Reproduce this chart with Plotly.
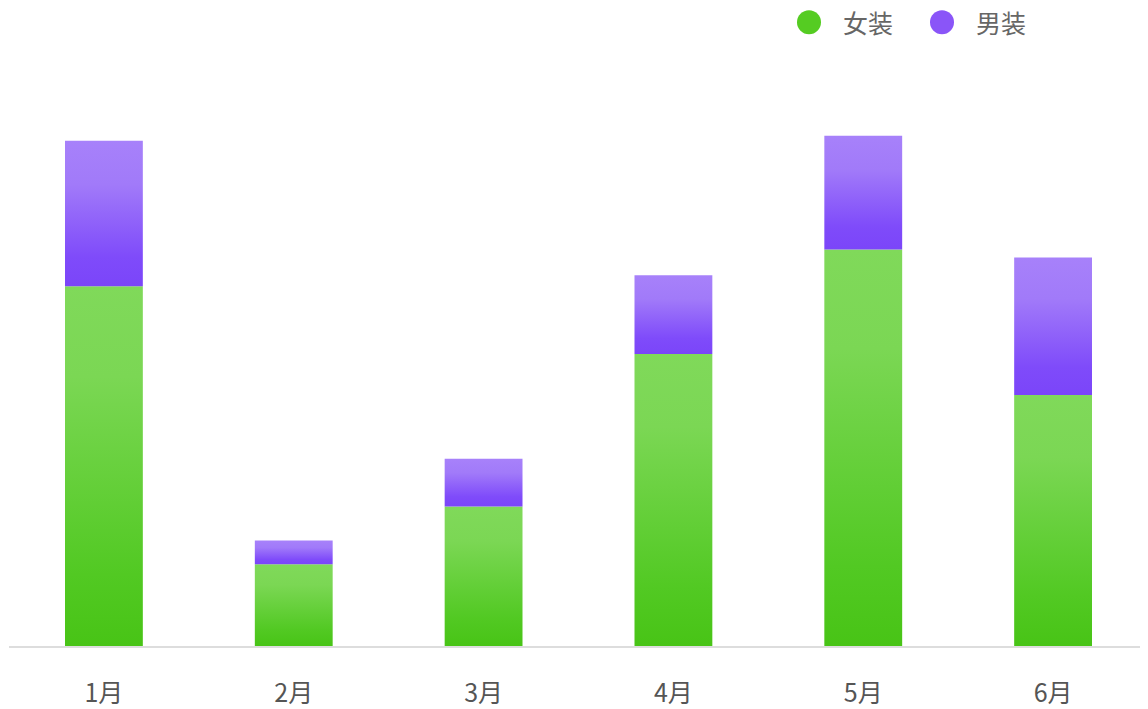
import plotly.graph_objects as go

months = ["1月", "2月", "3月", "4月", "5月", "6月"]
women = [36.1, 8.2, 14.0, 29.3, 39.8, 25.2]
men = [14.6, 2.4, 4.8, 7.9, 11.4, 13.8]
series_names = ["女装", "男装"]

GREEN_SCALE = [[0, "#48c416"], [0.2, "#52c923"], [0.75, "#7bd754"], [1, "#80d95a"]]
PURPLE_SCALE = [[0, "#7b45f9"], [0.2, "#7f4bfa"], [0.7, "#a17af9"], [1, "#a781fa"]]
HALF_W = 0.205

fig = go.Figure()

for i, (w, m) in enumerate(zip(women, men)):
    x0, x1 = i - HALF_W, i + HALF_W
    fig.add_trace(go.Scatter(
        x=[x0, x1, x1, x0, x0], y=[0, 0, w, w, 0],
        mode="lines", line=dict(width=0, color="rgba(0,0,0,0)"),
        fill="toself",
        fillgradient=dict(type="vertical", colorscale=GREEN_SCALE),
        showlegend=False, hoverinfo="skip",
    ))
    fig.add_trace(go.Scatter(
        x=[x0, x1, x1, x0, x0], y=[w, w, w + m, w + m, w],
        mode="lines", line=dict(width=0, color="rgba(0,0,0,0)"),
        fill="toself",
        fillgradient=dict(type="vertical", colorscale=PURPLE_SCALE),
        showlegend=False, hoverinfo="skip",
    ))

OFF = 8  # page body margin
W, H = 1148 - OFF, 709 - OFF
ML, MR, MT, MB = 1, 0, 100 - OFF, 61
pw, ph = W - ML - MR, H - MT - MB

def px(x):
    return (x - OFF - ML) / pw

def py(y):
    return (H - MB - (y - OFF)) / ph

legend_items = [(809, "#55cc22", series_names[0], 841), (942, "#8a55f8", series_names[1], 974)]
shapes = []
annotations = []
for cx, col, name, tx in legend_items:
    r = 12
    shapes.append(dict(type="circle", xref="paper", yref="paper",
                       x0=px(cx - r), x1=px(cx + r), y0=py(22 + r), y1=py(22 - r),
                       fillcolor=col, line=dict(width=0)))
    annotations.append(dict(xref="paper", yref="paper", x=px(tx), y=py(22),
                            xanchor="left", yanchor="middle", text=name, showarrow=False,
                            font=dict(size=25, color="#666666", family="Noto Sans CJK SC")))

fig.update_layout(
    width=W, height=H,
    margin=dict(l=ML, r=MR, t=MT, b=MB),
    paper_bgcolor="white", plot_bgcolor="white",
    font=dict(family="Noto Sans CJK SC", color="#555555"),
    showlegend=False,
    shapes=shapes,
    annotations=annotations,
    xaxis=dict(
        range=[-0.5, 5.5], tickmode="array", tickvals=list(range(len(months))),
        ticktext=months, showgrid=False, zeroline=False,
        showline=True, linecolor="#dddddd", linewidth=2,
        ticks="", ticklabelstandoff=24,
        tickfont=dict(size=25, color="#555555", family="Noto Sans CJK SC"),
        fixedrange=True,
    ),
    yaxis=dict(range=[0, 54.8], visible=False, showgrid=False, zeroline=False, fixedrange=True),
)

fig.write_html("out.html")
